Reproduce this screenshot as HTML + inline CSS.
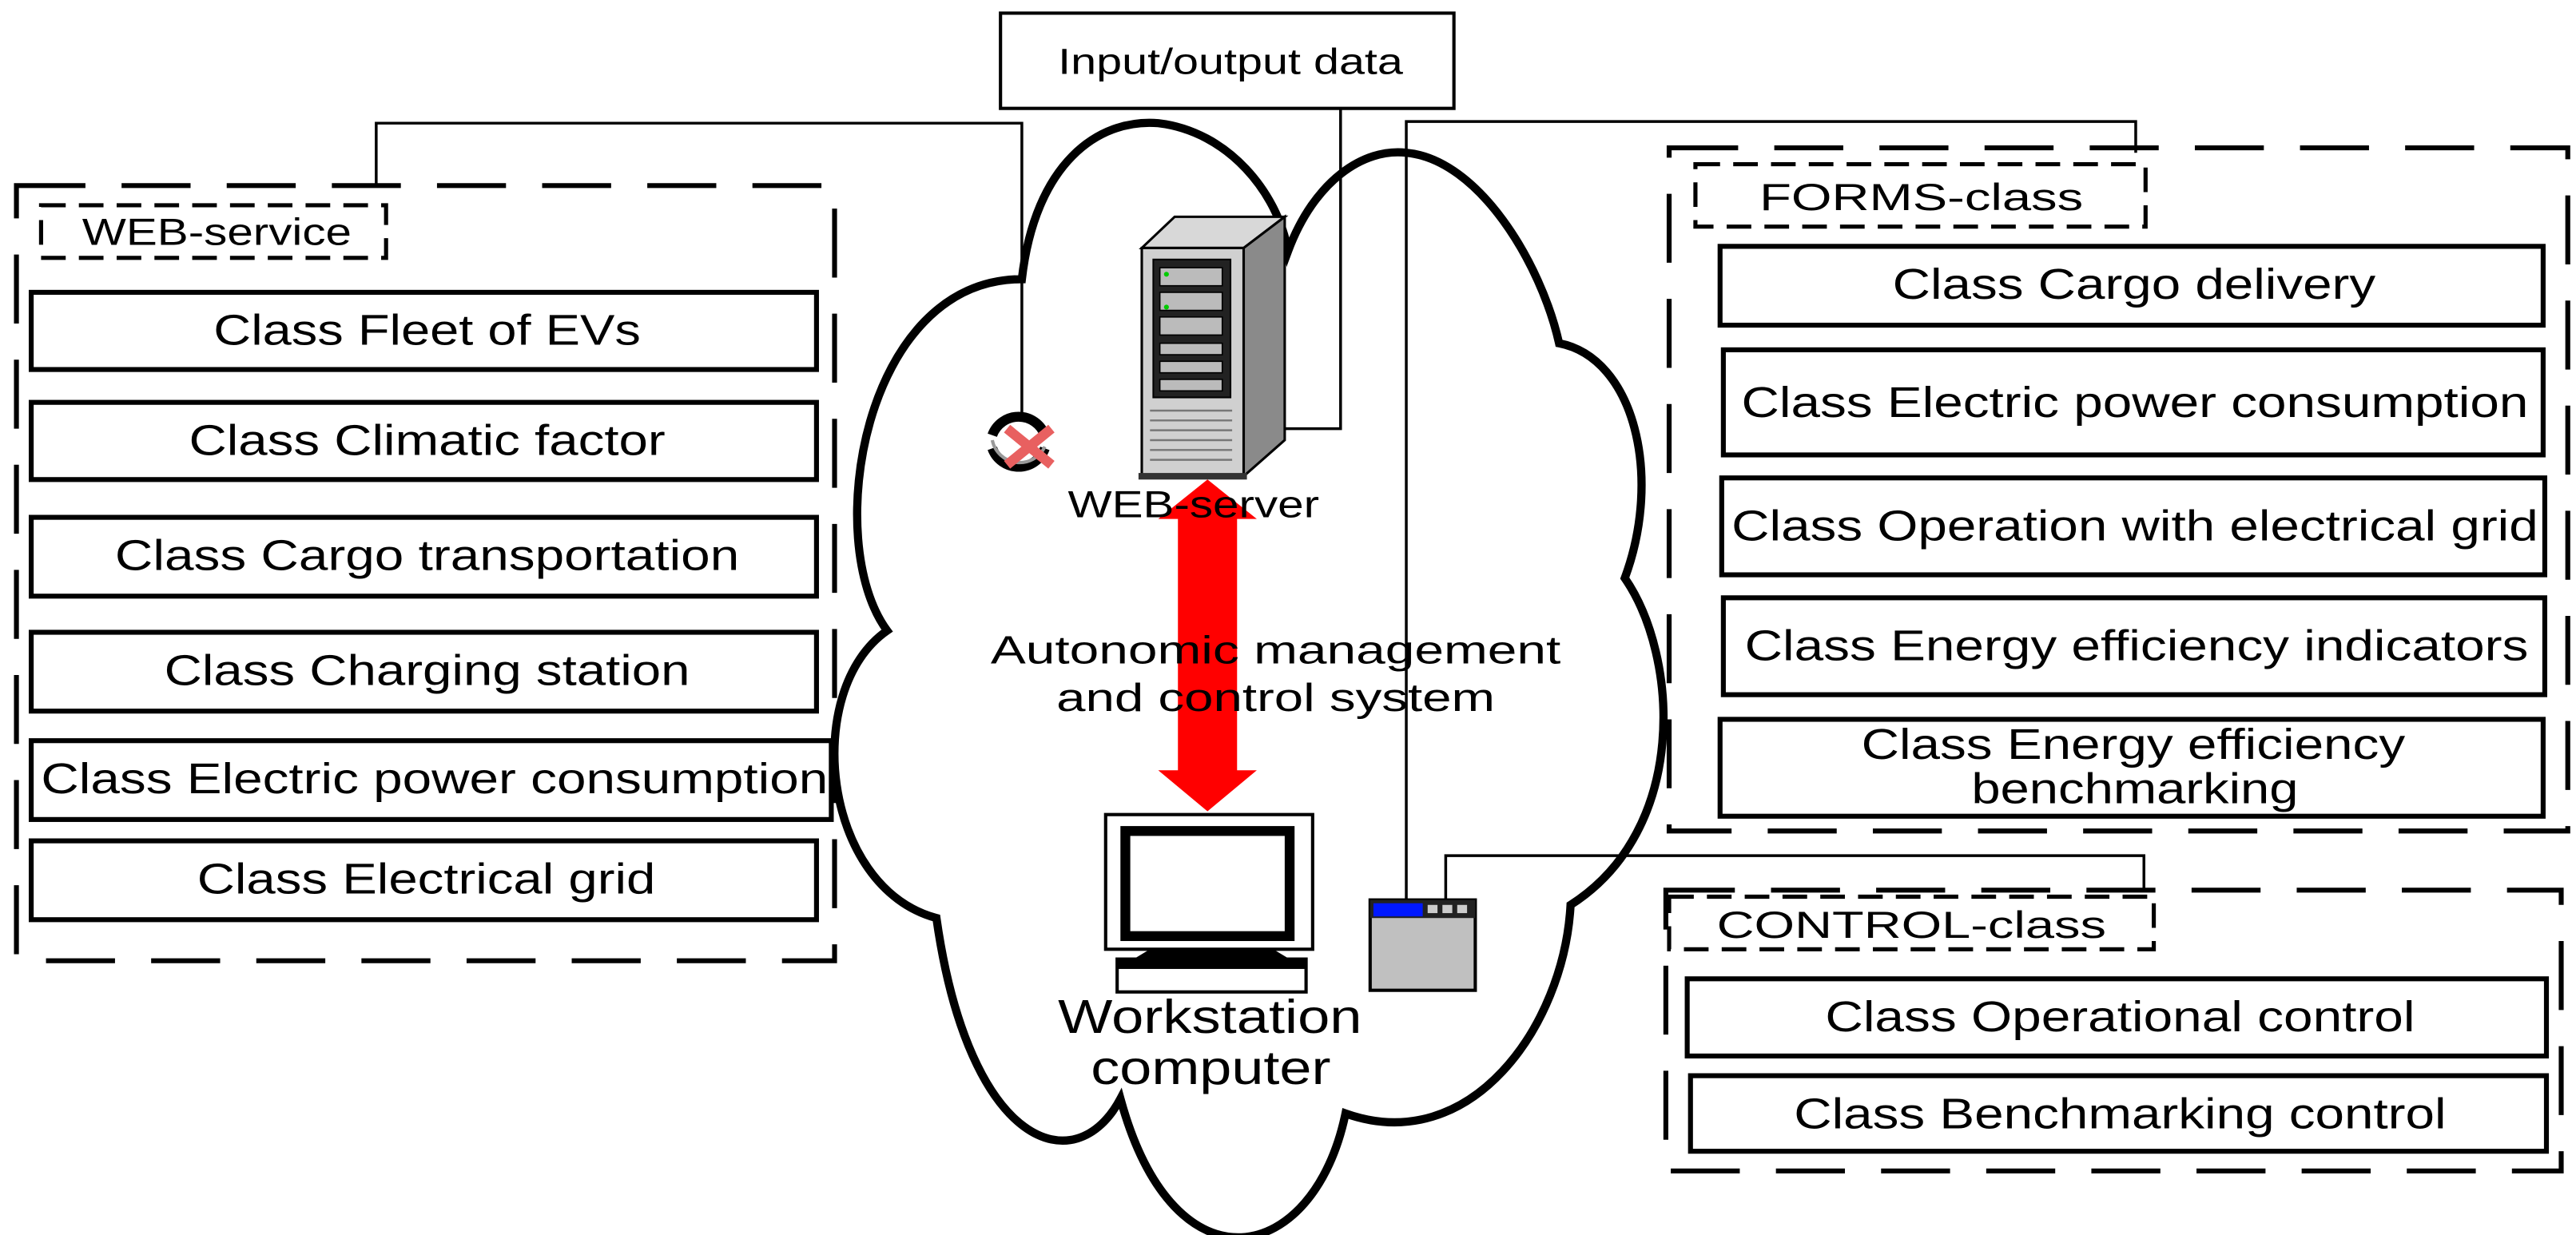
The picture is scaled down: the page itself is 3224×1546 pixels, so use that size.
<!DOCTYPE html>
<html><head><meta charset="utf-8"><style>
html,body{margin:0;padding:0;background:#fff;}
svg{display:block;}
text{font-family:"Liberation Sans",Arial,sans-serif;fill:#000;}
</style></head><body>
<svg width="3224" height="1546" viewBox="0 0 1568 752" preserveAspectRatio="none" xmlns="http://www.w3.org/2000/svg">
<rect width="1568" height="752" fill="#fff"/>

<!-- Cloud -->
<path d="M622,170 C630,100 668,72 705,75 C748,80 778,118 784,153 C800,110 830,90 856,93 C900,97 938,160 949,209 C995,218 1012,290 989,352 C1022,400 1028,505 956,551 C952,625 895,705 819,678 C800,770 715,790 682,669 C655,720 590,700 570,559 C500,540 488,420 540,384 C500,330 525,170 622,170 Z" fill="#fff" stroke="#000" stroke-width="5"/>

<!-- Input/output -->
<rect x="609" y="8" width="276" height="58" fill="#fff" stroke="#000" stroke-width="2"/>
<text x="749" y="45" font-size="22" text-anchor="middle" textLength="210" lengthAdjust="spacingAndGlyphs">Input/output data</text>

<!-- connectors -->
<g fill="none" stroke="#000" stroke-width="1.7">
<polyline points="229,112 229,75 622,75 622,252"/>
<polyline points="816,66 816,261 782,261"/>
<polyline points="856,548 856,74 1300,74 1300,93"/>
<polyline points="880,548 880,521 1305,521 1305,542"/>
</g>

<!-- Left WEB-service group -->
<rect x="10" y="113" width="498" height="472" fill="none" stroke="#000" stroke-width="3" stroke-dasharray="42,22"/>
<rect x="25" y="125" width="210" height="32" fill="#fff" stroke="#000" stroke-width="2.5" stroke-dasharray="15,8"/>
<text x="50" y="149" font-size="23" textLength="164" lengthAdjust="spacingAndGlyphs">WEB-service</text>
<g fill="#fff" stroke="#000" stroke-width="3">
<rect x="19" y="178" width="478" height="47"/>
<rect x="19" y="245" width="478" height="47"/>
<rect x="19" y="315" width="478" height="48"/>
<rect x="19" y="385" width="478" height="48"/>
<rect x="19" y="451" width="487" height="48"/>
<rect x="19" y="512" width="478" height="48"/>
</g>
<g font-size="26">
<text x="130" y="210" textLength="260" lengthAdjust="spacingAndGlyphs">Class Fleet of EVs</text>
<text x="115" y="277" textLength="290" lengthAdjust="spacingAndGlyphs">Class Climatic factor</text>
<text x="70" y="347" textLength="380" lengthAdjust="spacingAndGlyphs">Class Cargo transportation</text>
<text x="100" y="417" textLength="320" lengthAdjust="spacingAndGlyphs">Class Charging station</text>
<text x="25" y="483" textLength="479" lengthAdjust="spacingAndGlyphs">Class Electric power consumption</text>
<text x="120" y="544" textLength="279" lengthAdjust="spacingAndGlyphs">Class Electrical grid</text>
</g>

<!-- FORMS group -->
<rect x="1016" y="90" width="547" height="416" fill="none" stroke="#000" stroke-width="3" stroke-dasharray="42,22"/>
<rect x="1032" y="100" width="274" height="38" fill="#fff" stroke="#000" stroke-width="2.5" stroke-dasharray="15,8"/>
<text x="1071" y="128" font-size="23" textLength="197" lengthAdjust="spacingAndGlyphs">FORMS-class</text>
<g fill="#fff" stroke="#000" stroke-width="3">
<rect x="1047" y="150" width="501" height="48"/>
<rect x="1049" y="213" width="499" height="64"/>
<rect x="1048" y="291" width="501" height="59"/>
<rect x="1049" y="364" width="500" height="59"/>
<rect x="1047" y="438" width="501" height="59"/>
</g>
<g font-size="26">
<text x="1152" y="182" textLength="294" lengthAdjust="spacingAndGlyphs">Class Cargo delivery</text>
<text x="1060" y="254" textLength="479" lengthAdjust="spacingAndGlyphs">Class Electric power consumption</text>
<text x="1054" y="329" textLength="491" lengthAdjust="spacingAndGlyphs">Class Operation with electrical grid</text>
<text x="1062" y="402" textLength="477" lengthAdjust="spacingAndGlyphs">Class Energy efficiency indicators</text>
<text x="1133" y="462" textLength="331" lengthAdjust="spacingAndGlyphs">Class Energy efficiency</text>
<text x="1200" y="489" textLength="199" lengthAdjust="spacingAndGlyphs">benchmarking</text>
</g>

<!-- CONTROL group -->
<rect x="1014" y="542" width="545" height="171" fill="none" stroke="#000" stroke-width="3" stroke-dasharray="42,22"/>
<rect x="1016" y="546" width="295" height="32" fill="#fff" stroke="#000" stroke-width="2.5" stroke-dasharray="15,8"/>
<text x="1045" y="571" font-size="23" textLength="237" lengthAdjust="spacingAndGlyphs">CONTROL-class</text>
<g fill="#fff" stroke="#000" stroke-width="3">
<rect x="1027" y="596" width="523" height="47"/>
<rect x="1029" y="655" width="521" height="46"/>
</g>
<g font-size="26">
<text x="1111" y="628" textLength="359" lengthAdjust="spacingAndGlyphs">Class Operational control</text>
<text x="1092" y="687" textLength="397" lengthAdjust="spacingAndGlyphs">Class Benchmarking control</text>
</g>

<!-- Server -->
<polygon points="695,151 715,132 782,132 757,151" fill="#d8d8d8" stroke="#000" stroke-width="1.5"/>
<polygon points="757,151 782,132 782,268 757,290" fill="#8a8a8a" stroke="#000" stroke-width="1.5"/>
<rect x="695" y="151" width="62" height="139" fill="#d0d0d0" stroke="#000" stroke-width="1.5"/>
<rect x="702" y="158" width="47" height="84" fill="#222" stroke="#000"/>
<g fill="#bbb" stroke="#000" stroke-width="0.8">
<rect x="706" y="163" width="38" height="11"/>
<rect x="706" y="178" width="38" height="11"/>
<rect x="706" y="193" width="38" height="11"/>
<rect x="706" y="209" width="38" height="7"/>
<rect x="706" y="220" width="38" height="7"/>
<rect x="706" y="231" width="38" height="7"/>
</g>
<circle cx="710" cy="167" r="1.5" fill="#0c0"/><circle cx="710" cy="187" r="1.5" fill="#0c0"/>
<g stroke="#777" stroke-width="1.2">
<line x1="700" y1="250" x2="750" y2="250"/><line x1="700" y1="256" x2="750" y2="256"/>
<line x1="700" y1="262" x2="750" y2="262"/><line x1="700" y1="268" x2="750" y2="268"/>
<line x1="700" y1="274" x2="750" y2="274"/><line x1="700" y1="280" x2="750" y2="280"/>
</g>
<rect x="693" y="288" width="66" height="4" fill="#333"/>

<!-- X icon -->
<path d="M604,265 A17,17 0 0 1 636,265" fill="none" stroke="#000" stroke-width="6"/>
<path d="M604,273 A17,17 0 0 0 636,273" fill="none" stroke="#000" stroke-width="6"/>
<path d="M604,268 A17,17 0 0 0 636,272" fill="none" stroke="#999" stroke-width="2"/>
<path d="M613,261 L640,283 M640,261 L613,283" stroke="#e86060" stroke-width="6"/>

<!-- Red arrow -->
<polygon points="735,292 765,316 753,316 753,469 765,469 735,494 705,469 717,469 717,316 705,316" fill="#ff0000"/>

<text x="650" y="315" font-size="23" textLength="153" lengthAdjust="spacingAndGlyphs">WEB-server</text>
<text x="603" y="404" font-size="24" textLength="347" lengthAdjust="spacingAndGlyphs">Autonomic management</text>
<text x="643" y="433" font-size="24" textLength="267" lengthAdjust="spacingAndGlyphs">and control system</text>

<!-- Monitor -->
<rect x="673" y="496" width="126" height="82" fill="#fff" stroke="#000" stroke-width="2"/>
<rect x="685" y="506" width="100" height="64" fill="#fff" stroke="#000" stroke-width="6"/>
<polygon points="700,578 775,578 785,584 690,584" fill="#000"/>
<rect x="680" y="584" width="115" height="20" fill="#fff" stroke="#000" stroke-width="2"/>
<rect x="680" y="584" width="115" height="6" fill="#000"/>

<text x="644" y="629" font-size="29" textLength="185" lengthAdjust="spacingAndGlyphs">Workstation</text>
<text x="664" y="660" font-size="29" textLength="146" lengthAdjust="spacingAndGlyphs">computer</text>

<!-- Window icon -->
<rect x="834" y="548" width="64" height="55" fill="#c0c0c0" stroke="#000" stroke-width="2"/>
<rect x="834" y="548" width="64" height="11" fill="#222"/>
<rect x="836" y="550" width="30" height="8" fill="#0018ff"/>
<rect x="869" y="551" width="6" height="5" fill="#ccc"/>
<rect x="878" y="551" width="6" height="5" fill="#ccc"/>
<rect x="887" y="551" width="6" height="5" fill="#ccc"/>
</svg>
</body></html>
